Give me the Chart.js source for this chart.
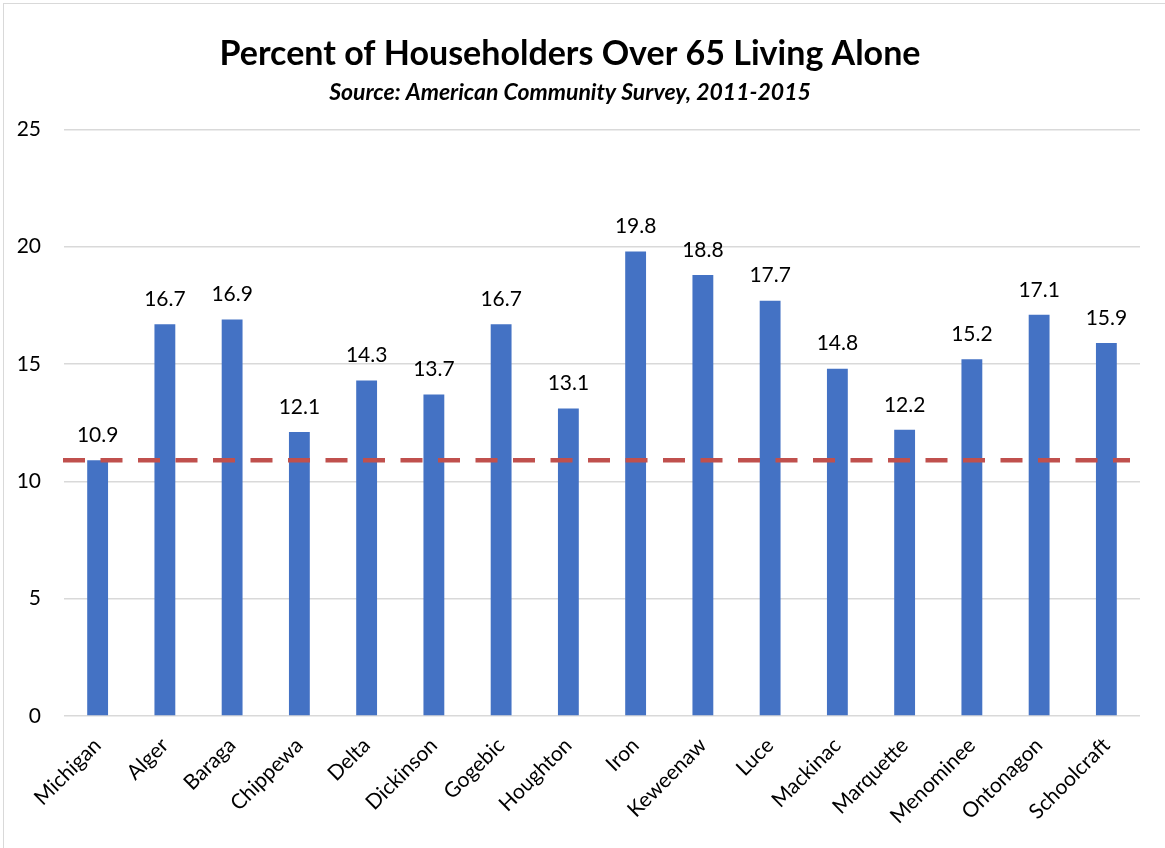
<!DOCTYPE html>
<html>
<head>
<meta charset="utf-8">
<script src="https://cdn.jsdelivr.net/npm/chart.js@4"></script>
<style>
  html, body { margin: 0; padding: 0; background: #fff; overflow: hidden; }
  #frame { position: absolute; left: 3px; top: 3px; width: 1200px; height: 900px; border: 1px solid #d9d9d9; box-sizing: border-box; }
  #wrap { position: absolute; left: 0; top: 0; width: 1165px; height: 848px; }
</style>
</head>
<body>
<div id="frame"></div>
<div id="wrap"><canvas id="c" width="1165" height="848"></canvas></div>
<script>
const categories = ["Michigan","Alger","Baraga","Chippewa","Delta","Dickinson","Gogebic","Houghton","Iron","Keweenaw","Luce","Mackinac","Marquette","Menominee","Ontonagon","Schoolcraft"];
const values = [10.9,16.7,16.9,12.1,14.3,13.7,16.7,13.1,19.8,18.8,17.7,14.8,12.2,15.2,17.1,15.9];
const referenceValue = 10.9;
const yTicks = [0,5,10,15,20,25];
const titleText = "Percent of Householders Over 65 Living Alone";
const subtitleText = "Source: American Community Survey, 2011-2015";

const FONT = "Lato, 'Open Sans', sans-serif";

const valueLabels = {
  id: 'valueLabels',
  afterDatasetsDraw(chart) {
    const ctx = chart.ctx;
    const meta = chart.getDatasetMeta(0);
    ctx.save();
    ctx.font = "21px " + FONT;
    ctx.fillStyle = "#000";
    ctx.textAlign = "center";
    ctx.textBaseline = "middle";
    meta.data.forEach((bar, i) => {
      ctx.fillText(values[i].toFixed(1), bar.x, bar.y - 25);
    });
    ctx.restore();
  }
};

const refLine = {
  id: 'refLine',
  afterDatasetsDraw(chart) {
    const ctx = chart.ctx;
    const y = chart.scales.y.getPixelForValue(referenceValue);
    const area = chart.chartArea;
    ctx.save();
    ctx.strokeStyle = "#C0504D";
    ctx.lineWidth = 4.5;
    ctx.setLineDash([22, 15.5]);
    ctx.beginPath();
    ctx.moveTo(area.left - 1, y);
    ctx.lineTo(area.right - 10, y);
    ctx.stroke();
    ctx.restore();
  }
};

new Chart(document.getElementById('c'), {
  type: 'bar',
  data: {
    labels: categories,
    datasets: [{
      data: values,
      backgroundColor: "#4472C4",
      borderWidth: 0,
      categoryPercentage: 1.0,
      barPercentage: 0.31
    }]
  },
  options: {
    responsive: false,
    animation: false,
    layout: { padding: { left: 0, right: 25, top: 22, bottom: 0 } },
    plugins: {
      legend: { display: false },
      tooltip: { enabled: false },
      title: {
        display: true,
        text: titleText,
        color: "#000",
        font: { family: FONT, size: 34, weight: 'bold', lineHeight: 1.2 },
        padding: { top: 12, bottom: 2 }
      },
      subtitle: {
        display: true,
        text: subtitleText,
        color: "#000",
        font: { family: FONT, size: 23, weight: 'bold', style: 'italic', lineHeight: 1.2 },
        padding: { top: 2, bottom: 23 }
      }
    },
    scales: {
      x: {
        grid: { display: false },
        border: { display: false },
        afterFit(scale) { scale.height = 132; },
        ticks: {
          color: "#000",
          font: { family: FONT, size: 21 },
          maxRotation: 45,
          minRotation: 45,
          autoSkip: false,
          padding: 9
        }
      },
      y: {
        min: 0,
        max: 25,
        afterBuildTicks(scale) { scale.ticks = yTicks.map(v => ({ value: v })); },
        afterFit(scale) { scale.width = 64; },
        grid: { color: "#d9d9d9", lineWidth: 1.5, drawTicks: false },
        border: { display: false },
        ticks: {
          color: "#000",
          font: { family: FONT, size: 21 },
          padding: 23
        }
      }
    }
  },
  plugins: [valueLabels, refLine]
});
</script>
</body>
</html>
